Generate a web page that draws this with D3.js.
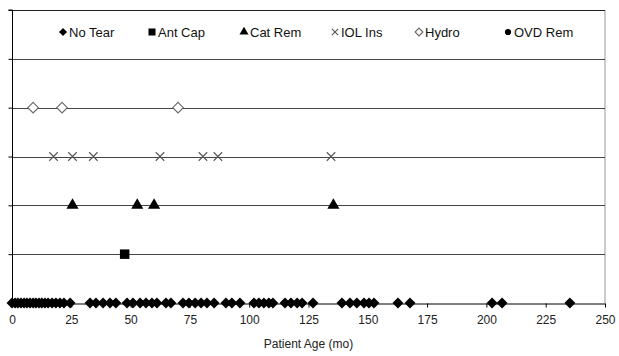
<!DOCTYPE html>
<html>
<head>
<meta charset="utf-8">
<script src="https://cdn.jsdelivr.net/npm/d3@7"></script>
<style>
  html, body { margin: 0; padding: 0; background: #fff; }
  svg { display: block; font-family: "Liberation Sans", Arial, sans-serif; }
</style>
</head>
<body>
<svg id="chart" width="619" height="356"></svg>
<script>
// Outcome categories, one row each (row index = position in this list)
const categories = ["No Tear", "Ant Cap", "Cat Rem", "IOL Ins", "Hydro", "OVD Rem"];

// Patient ages (months) for each outcome
const noTear = [0, 1.3, 2.5, 3.8, 5.1, 6.3, 7.6, 8.9, 10.1, 11.4, 12.6, 13.9, 15.2, 16.9, 18.5, 20.2, 21.9, 24.5,
  32.9, 35.4, 38.4, 41.3, 43.8,
  48.5, 51, 54, 56.5, 59, 61.1,
  64.9, 67,
  72.1, 74.6, 77.2, 79.7, 82.2, 85.2,
  90.2, 92.7, 96.1,
  102, 104.1, 106.2, 108.3, 110,
  115.1, 117.6, 120.2, 122.3,
  126.9,
  139.1, 142.5, 145.4, 148.4, 150.5, 152.6,
  162.7, 167.8,
  202.4, 206.6, 235.2];
const antCap = [47.5];
const catRem = [25.5, 52.8, 59.9, 135.5];
const iolIns = [17.5, 25.5, 34.3, 62.4, 80.5, 86.8, 134.5];
const hydro = [8.9, 21.1, 70];
const ovdRem = [];

const seriesValues = [noTear, antCap, catRem, iolIns, hydro, ovdRem];

// Axis ticks
const xTicks = [0, 25, 50, 75, 100, 125, 150, 175, 200, 225, 250];
const yTicks = [0, 1, 2, 3, 4, 5, 6];

const svg = d3.select("#chart");
const plotLeft = 12, plotRight = 605, plotTop = 10, plotBottom = 303;

const x = d3.scaleLinear().domain([0, 250]).range([plotLeft, plotRight]);
const y = d3.scaleLinear().domain([0, 6]).range([plotBottom, plotTop]);

// Square rotated 45 degrees
const diamond = {
  draw(ctx, size) {
    const r = Math.sqrt(size / 2);
    ctx.moveTo(0, -r); ctx.lineTo(r, 0); ctx.lineTo(0, r); ctx.lineTo(-r, 0); ctx.closePath();
  }
};
const cross = {
  draw(ctx, size) {
    const r = Math.sqrt(size) / 2;
    ctx.moveTo(-r, -r); ctx.lineTo(r, r);
    ctx.moveTo(r, -r); ctx.lineTo(-r, r);
  }
};

const styles = [
  { type: diamond, size: 60, fill: "#000", stroke: "none" },
  { type: d3.symbolSquare, size: 90, fill: "#000", stroke: "none" },
  { type: d3.symbolTriangle, size: 64, fill: "#000", stroke: "none" },
  { type: cross, size: 72, fill: "none", stroke: "#555", sw: 1.1 },
  { type: diamond, size: 56, fill: "#fff", stroke: "#666", sw: 1.1 },
  { type: d3.symbolCircle, size: 55, fill: "#000", stroke: "none" }
];

// Right border
svg.append("line")
  .attr("x1", plotRight).attr("x2", plotRight).attr("y1", plotTop).attr("y2", plotBottom)
  .attr("stroke", "#999").attr("stroke-width", 1);

// Horizontal row lines
svg.append("g")
  .selectAll("line")
  .data(yTicks.filter(d => d > 0))
  .join("line")
  .attr("x1", plotLeft).attr("x2", plotRight)
  .attr("y1", d => Math.round(y(d)) + 0.5).attr("y2", d => Math.round(y(d)) + 0.5)
  .attr("stroke", d => d === 6 ? "#222" : "#444").attr("stroke-width", 1.1);

// Y axis (ticks only)
const yAxis = svg.append("g")
  .attr("transform", `translate(${plotLeft + 0.5},0)`)
  .call(d3.axisLeft(y).tickValues(yTicks).tickSize(4).tickFormat(""));
yAxis.select(".domain").attr("stroke", "#000").attr("d", `M-4,${plotTop}H0V${plotBottom}`);
yAxis.selectAll(".tick line").attr("stroke", "#000");

// X axis
const xAxis = svg.append("g")
  .attr("transform", `translate(0,${plotBottom + 0.5})`)
  .call(d3.axisBottom(x).tickValues(xTicks).tickSize(4).tickSizeOuter(0).tickPadding(8));
xAxis.select(".domain").attr("stroke", "#000");
xAxis.selectAll(".tick line").attr("stroke", "#000");
xAxis.selectAll(".tick text")
  .attr("font-family", "'Liberation Sans', Arial, sans-serif")
  .attr("font-size", 12).attr("fill", "#222");

svg.append("text")
  .attr("x", (plotLeft + plotRight) / 2).attr("y", 348)
  .attr("text-anchor", "middle")
  .attr("font-size", 12).attr("fill", "#222")
  .text("Patient Age (mo)");

// Data markers
seriesValues.forEach((vals, i) => {
  const s = styles[i];
  const sym = d3.symbol().type(s.type).size(s.size);
  svg.append("g")
    .selectAll("path")
    .data(vals)
    .join("path")
    .attr("transform", d => `translate(${x(d)},${y(i)})`)
    .attr("d", sym)
    .attr("fill", s.fill)
    .attr("stroke", s.stroke)
    .attr("stroke-width", s.sw || 0);
});

// Legend
const legendX = [63, 152, 244, 335, 419, 508];
const legend = svg.append("g");
categories.forEach((c, i) => {
  const s = styles[i];
  const g = legend.append("g").attr("transform", `translate(${legendX[i]},32)`);
  g.append("path")
    .attr("d", d3.symbol().type(s.type).size(s.size * 0.55))
    .attr("fill", s.fill).attr("stroke", s.stroke).attr("stroke-width", s.sw || 0);
  g.append("text")
    .attr("x", 6).attr("y", 4.5)
    .attr("font-size", 13).attr("fill", "#111")
    .text(c);
});
</script>
</body>
</html>
